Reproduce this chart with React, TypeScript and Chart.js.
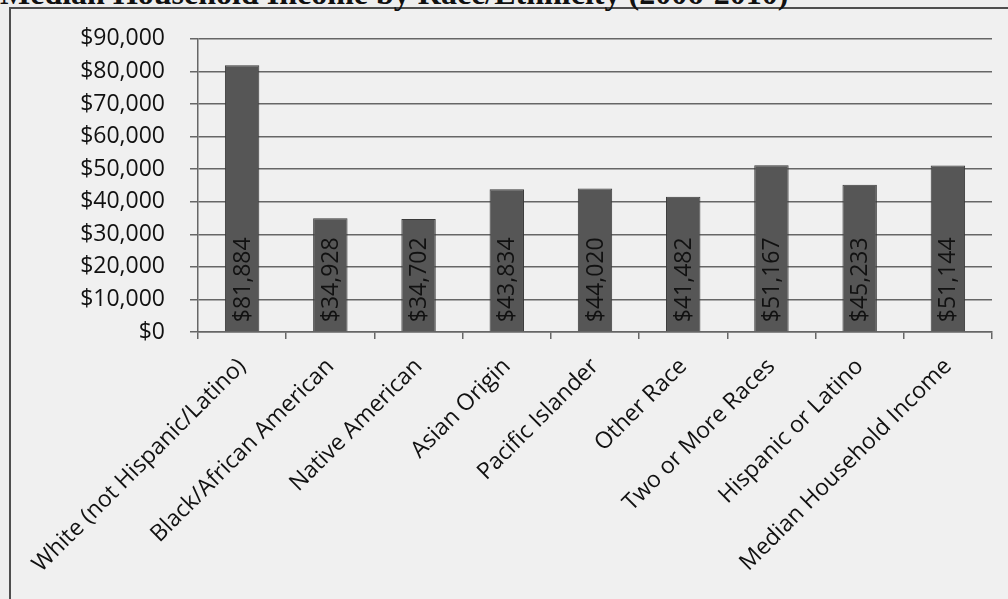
import React, { useEffect, useRef } from "react";
import { Chart, registerables } from "chart.js";

Chart.register(...registerables);

const TITLE = "Median Household Income by Race/Ethnicity (2006-2010)";

const categories = [
  "White (not Hispanic/Latino)",
  "Black/African American",
  "Native American",
  "Asian Origin",
  "Pacific Islander",
  "Other Race",
  "Two or More Races",
  "Hispanic or Latino",
  "Median Household Income",
];

const incomes = [81884, 34928, 34702, 43834, 44020, 41482, 51167, 45233, 51144];

const yTickMin = 0;
const yTickMax = 90000;
const yTickStep = 10000;

const FONT = "'Open Sans', 'DejaVu Sans', sans-serif";
const FONT_SIZE = 23;
const TEXT = "#111111";
const LINE = "#666666";

const money = (v: number) => "$" + Math.round(v).toLocaleString("en-US");

// Vertical value labels written inside each bar, reading bottom-to-top.
const barValueLabels = {
  id: "barValueLabels",
  afterDatasetsDraw(chart: any) {
    const { ctx } = chart;
    const meta = chart.getDatasetMeta(0);
    const values = chart.data.datasets[0].data as number[];
    ctx.save();
    ctx.font = `${FONT_SIZE}px ${FONT}`;
    ctx.fillStyle = TEXT;
    ctx.textAlign = "left";
    ctx.textBaseline = "middle";
    meta.data.forEach((bar: any, i: number) => {
      const base = bar.base as number;
      ctx.save();
      ctx.translate(bar.x + 1, base - 9);
      ctx.rotate(-Math.PI / 2);
      ctx.fillText(money(values[i]), 0, 0);
      ctx.restore();
    });
    ctx.restore();
  },
};

export default function App() {
  const canvasRef = useRef<HTMLCanvasElement | null>(null);

  useEffect(() => {
    document.body.style.margin = "0";
    const canvas = canvasRef.current;
    if (!canvas) return;
    const chart = new Chart(canvas, {
      type: "bar",
      data: {
        labels: categories,
        datasets: [
          {
            data: incomes,
            backgroundColor: "#565656",
            borderColor: "#3a3a3a",
            borderWidth: 1,
            barPercentage: 0.39,
            categoryPercentage: 1,
          },
        ],
      },
      options: {
        responsive: false,
        animation: false,
        devicePixelRatio: 1,
        layout: { padding: { left: 20, top: 36, right: 16, bottom: 0 } },
        plugins: {
          legend: { display: false },
          tooltip: { enabled: false },
          title: { display: false },
        },
        scales: {
          y: {
            min: yTickMin,
            max: yTickMax,
            ticks: {
              stepSize: yTickStep,
              callback: (v: any) => money(Number(v)),
              font: { family: FONT, size: FONT_SIZE },
              color: TEXT,
              padding: 25,
            },
            grid: { color: LINE, lineWidth: 1.5, tickLength: 8 },
            border: { display: true, color: LINE, width: 1.5 },
            afterFit: (scale: any) => {
              scale.width = 178;
            },
          },
          x: {
            ticks: {
              minRotation: 45,
              maxRotation: 45,
              autoSkip: false,
              font: { family: FONT, size: FONT_SIZE },
              color: TEXT,
              padding: 14,
            },
            grid: {
              offset: true,
              drawOnChartArea: false,
              drawTicks: true,
              tickLength: 7,
              color: LINE,
              lineWidth: 1.5,
            },
            border: { display: true, color: LINE, width: 1.5 },
            afterFit: (scale: any) => {
              scale.height = 267;
            },
          },
        },
      },
      plugins: [barValueLabels],
    });
    return () => chart.destroy();
  }, []);

  return (
    <div
      style={{
        position: "fixed",
        left: 0,
        top: 0,
        width: 1008,
        height: 599,
        overflow: "hidden",
        background: "#eeeeee",
      }}
    >
      <div
        style={{
          position: "absolute",
          left: 9,
          top: 7,
          width: 1100,
          height: 700,
          border: "2px solid #4e4e4e",
          background: "#f0f0f0",
        }}
      />
      <div
        style={{
          position: "absolute",
          left: 0,
          top: -23,
          whiteSpace: "nowrap",
          fontFamily: "'Liberation Serif', 'DejaVu Serif', serif",
          fontWeight: "bold",
          fontSize: 32,
          lineHeight: "32px",
          color: "#111",
        }}
      >
        {TITLE}
      </div>
      <canvas
        ref={canvasRef}
        width={1008}
        height={599}
        style={{ position: "absolute", left: 0, top: 0, width: 1008, height: 599 }}
      />
    </div>
  );
}
